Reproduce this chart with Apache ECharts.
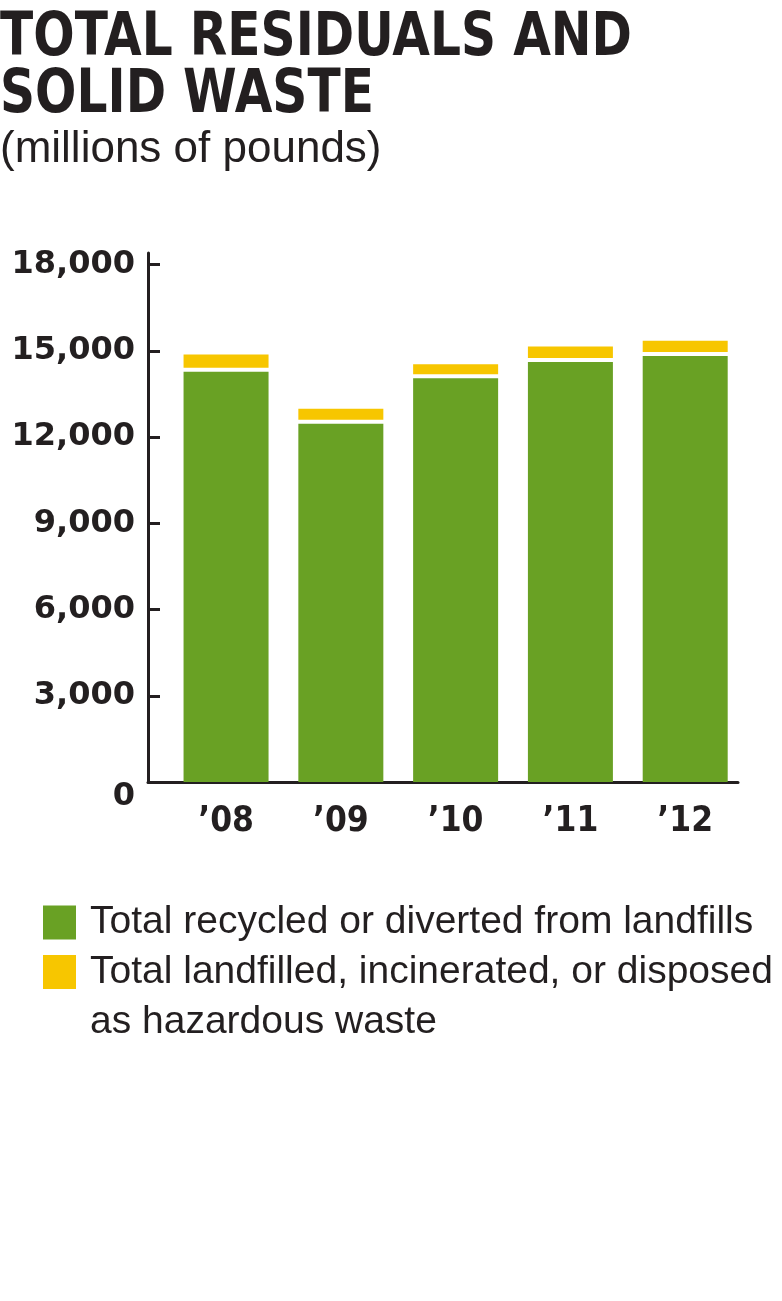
<!DOCTYPE html>
<html lang="en">
<head>
  <meta charset="utf-8">
  <script src="https://cdn.jsdelivr.net/npm/echarts@6.0.0/dist/echarts.min.js"></script>
  <style>
    html, body { margin: 0; padding: 0; background: #fff; }
    #chart { width: 782px; height: 1301px; }
  </style>
</head>
<body>
  <div id="chart"></div>
  <script>
    // data (millions of pounds)
    var years = ['\u201908', '\u201909', '\u201910', '\u201911', '\u201912'];
    var recycled = [14270, 12460, 14040, 14610, 14820];
    var disposed = [600, 520, 490, 540, 530];
    var yTicks = [0, 3000, 6000, 9000, 12000, 15000, 18000];

    var GREEN = '#69a124';
    var YELLOW = '#f7c600';
    var INK = '#231f20';
    var BAR_W = 85;
    var GAP = 4;
    var NAME_A = 'Total recycled or diverted from landfills';
    var NAME_B = 'Total landfilled, incinerated, or disposed as hazardous waste';

    var chart = echarts.init(document.getElementById('chart'), null, { renderer: 'canvas' });

    var recycledData = recycled.map(function (v, i) { return [i, v]; });
    var disposedData = disposed.map(function (v, i) { return [i, recycled[i], v]; });

    var legendText = {
      fontFamily: '"Liberation Sans", Arial, sans-serif',
      fontSize: 39,
      color: INK
    };

    var option = {
      backgroundColor: '#fff',
      animation: false,
      graphic: [
        {
          // heavy condensed headline: bold face squeezed horizontally
          type: 'text',
          x: 0,
          y: 11,
          scaleX: 0.812,
          style: {
            text: 'TOTAL RESIDUALS AND\nSOLID WASTE',
            font: 'bold 60px "DejaVu Sans", sans-serif',
            lineHeight: 57,
            fill: INK,
            verticalAlign: 'top'
          }
        },
        {
          type: 'text',
          x: 0,
          y: 128,
          style: {
            text: '(millions of pounds)',
            font: '44px "Liberation Sans", Arial, sans-serif',
            fill: INK,
            verticalAlign: 'top'
          }
        }
      ],
      legend: [
        {
          data: [{ name: NAME_A, itemStyle: { color: GREEN } }],
          left: 43,
          top: 903,
          orient: 'vertical',
          icon: 'rect',
          itemWidth: 33,
          itemHeight: 34,
          selectedMode: false,
          padding: 0,
          textStyle: Object.assign({ lineHeight: 34, padding: [0, 0, 0, 9] }, legendText)
        },
        {
          data: [{ name: NAME_B, itemStyle: { color: YELLOW } }],
          left: 43,
          top: 897,
          orient: 'vertical',
          icon: 'rect',
          itemWidth: 33,
          itemHeight: 34,
          selectedMode: false,
          padding: 0,
          // leading blank line keeps the first line level with the swatch
          formatter: function () {
            return '\nTotal landfilled, incinerated, or disposed\nas hazardous waste';
          },
          textStyle: Object.assign({ lineHeight: 50, padding: [0, 0, 0, 9] }, legendText)
        }
      ],
      grid: {
        left: 148,
        right: 44,
        top: 253,
        bottom: 519,
        containLabel: false
      },
      xAxis: {
        type: 'value',
        min: -0.68,
        max: 4.46,
        splitLine: { show: false },
        axisTick: { show: false },
        axisLine: { show: true, onZero: false, lineStyle: { color: INK, width: 3 } },
        axisLabel: {
          customValues: [0, 1, 2, 3, 4],
          margin: 22,
          formatter: function (v) { return years[Math.round(v)]; },
          fontFamily: '"DejaVu Sans Condensed", "DejaVu Sans", sans-serif',
          fontWeight: 'bold',
          fontSize: 35,
          color: INK
        }
      },
      yAxis: {
        type: 'value',
        min: 0,
        max: 18400,
        splitLine: { show: false },
        axisLine: { show: true, onZero: false, lineStyle: { color: INK, width: 3 } },
        axisTick: {
          show: true,
          inside: true,
          length: 12,
          customValues: yTicks,
          lineStyle: { color: INK, width: 3 }
        },
        axisLabel: {
          customValues: yTicks,
          margin: 13,
          fontFamily: '"DejaVu Sans", sans-serif',
          fontWeight: 'bold',
          fontSize: 32,
          color: INK,
          formatter: function (v) {
            if (v === 0) return '{z|0}';
            return v.toLocaleString('en-US');
          },
          rich: {
            z: {
              fontFamily: '"DejaVu Sans", sans-serif',
              fontWeight: 'bold',
              fontSize: 32,
              color: INK,
              padding: [30, 0, 0, 0]
            }
          }
        }
      },
      series: [
        {
          name: NAME_A,
          type: 'bar',
          data: recycledData,
          barWidth: BAR_W,
          itemStyle: { color: GREEN },
          z: 1
        },
        {
          name: NAME_B,
          type: 'custom',
          data: disposedData,
          encode: { x: 0, y: [1, 2] },
          itemStyle: { color: YELLOW },
          renderItem: function (params, api) {
            var x = api.value(0);
            var base = api.value(1);
            var val = api.value(2);
            var top = api.coord([x, base + val]);
            var bottom = api.coord([x, base]);
            return {
              type: 'rect',
              shape: {
                x: top[0] - BAR_W / 2,
                y: top[1],
                width: BAR_W,
                height: bottom[1] - top[1] - GAP
              },
              style: { fill: YELLOW }
            };
          },
          z: 1
        }
      ]
    };

    chart.setOption(option);
  </script>
</body>
</html>
